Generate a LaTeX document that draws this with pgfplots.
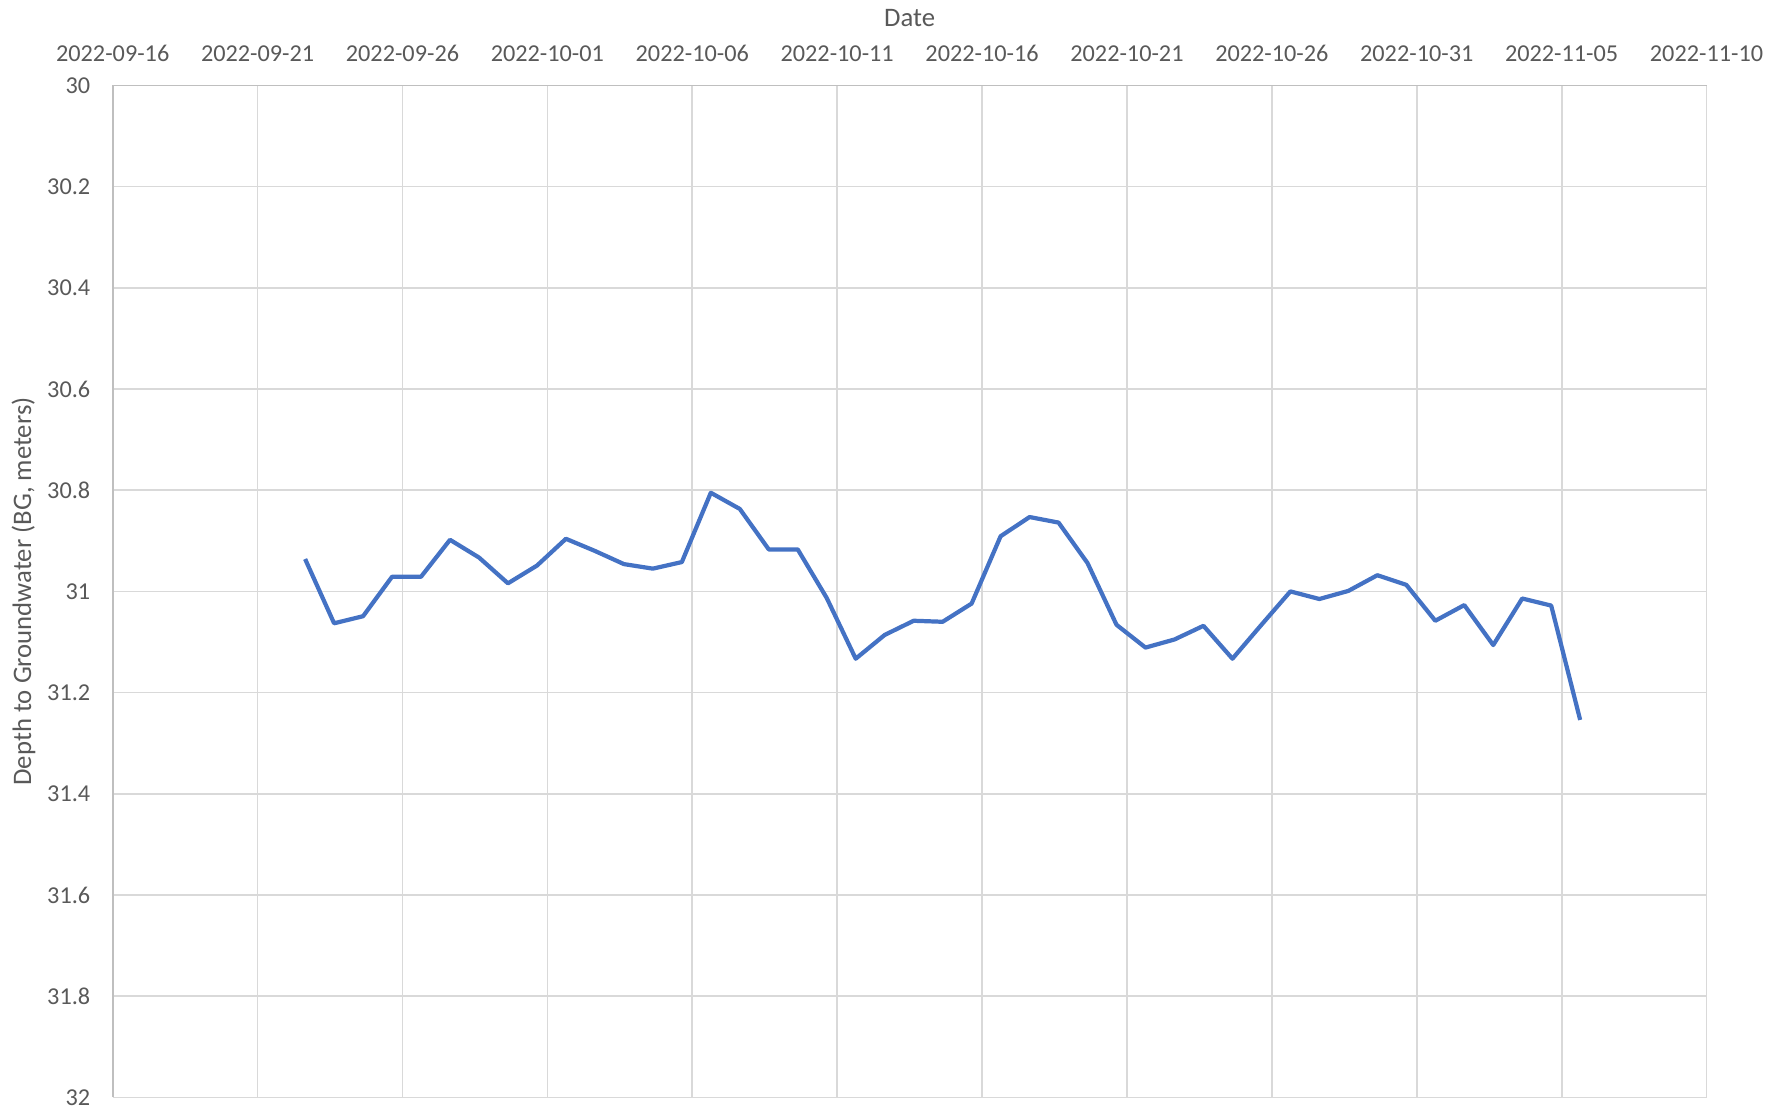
\documentclass[border=0pt]{standalone}
\usepackage{fontspec}
\setmainfont{Carlito}
\usepackage{pgfplots}
\pgfplotsset{compat=1.18}
\usetikzlibrary{calc}
\definecolor{xlBlue}{HTML}{4472C4}
\definecolor{xlGrid}{HTML}{D9D9D9}
\definecolor{xlAxis}{HTML}{BFBFBF}
\definecolor{xlText}{HTML}{595959}

% depth below ground, days after 2022-09-16
\pgfplotstableread{
day depth
6.64 30.936
7.64 31.063
8.64 31.049
9.64 30.971
10.64 30.971
11.64 30.898
12.64 30.933
13.64 30.984
14.64 30.949
15.64 30.896
16.64 30.920
17.64 30.946
18.64 30.955
19.64 30.942
20.64 30.805
21.64 30.837
22.64 30.917
23.64 30.917
24.64 31.013
25.64 31.133
26.64 31.086
27.64 31.058
28.64 31.060
29.64 31.024
30.64 30.891
31.64 30.853
32.64 30.864
33.64 30.944
34.64 31.066
35.64 31.111
36.64 31.095
37.64 31.068
38.64 31.133
39.64 31.066
40.64 31.000
41.64 31.015
42.64 30.999
43.64 30.968
44.64 30.987
45.64 31.058
46.64 31.027
47.64 31.106
48.64 31.014
49.64 31.028
50.64 31.254
}\gwtable

\begin{document}
\begin{tikzpicture}
\begin{axis}[scale only axis,width=159.38mm,height=101.2mm,
xmin=0,xmax=55,ymin=30,ymax=32,y dir=reverse,
axis x line=top,axis y line=left,
axis line style={-,xlAxis,line width=0.5pt},
xtick={0,5,...,55},
xticklabels={2022-09-16,2022-09-21,2022-09-26,2022-10-01,2022-10-06,
2022-10-11,2022-10-16,2022-10-21,2022-10-26,2022-10-31,2022-11-05,2022-11-10},
ytick={30,30.2,30.4,30.6,30.8,31,31.2,31.4,31.6,31.8,32},
yticklabels={30,30.2,30.4,30.6,30.8,31,31.2,31.4,31.6,31.8,32},
major tick length=0pt,
grid=major,grid style={xlGrid,line width=0.5pt},
tick label style={font=\fontsize{6.9}{8}\selectfont,text=xlText,inner sep=0pt},
xticklabel style={anchor=south,yshift=6.6pt},
yticklabel style={anchor=east,xshift=-6.2pt},
xlabel={Date},ylabel={Depth to Groundwater (BG, meters)},
label style={font=\fontsize{7.6}{9}\selectfont,text=xlText,inner sep=0pt},
xlabel style={at={(axis description cs:0.5,1.0665)},anchor=center},
ylabel style={at={(axis description cs:-0.0560,0.5)},anchor=center},
clip=false]
\addplot[xlBlue,line width=1.2pt,line join=round,no marks] table[x=day,y=depth] {\gwtable};
\coordinate (bl) at (axis description cs:0,0);
\coordinate (tr) at (axis description cs:1,1);
\end{axis}
\pgfresetboundingbox
\path ($(bl)+(-11.27mm,-1.36mm)$) rectangle ($(tr)+(7.85mm,8.54mm)$);
\end{tikzpicture}
\end{document}
